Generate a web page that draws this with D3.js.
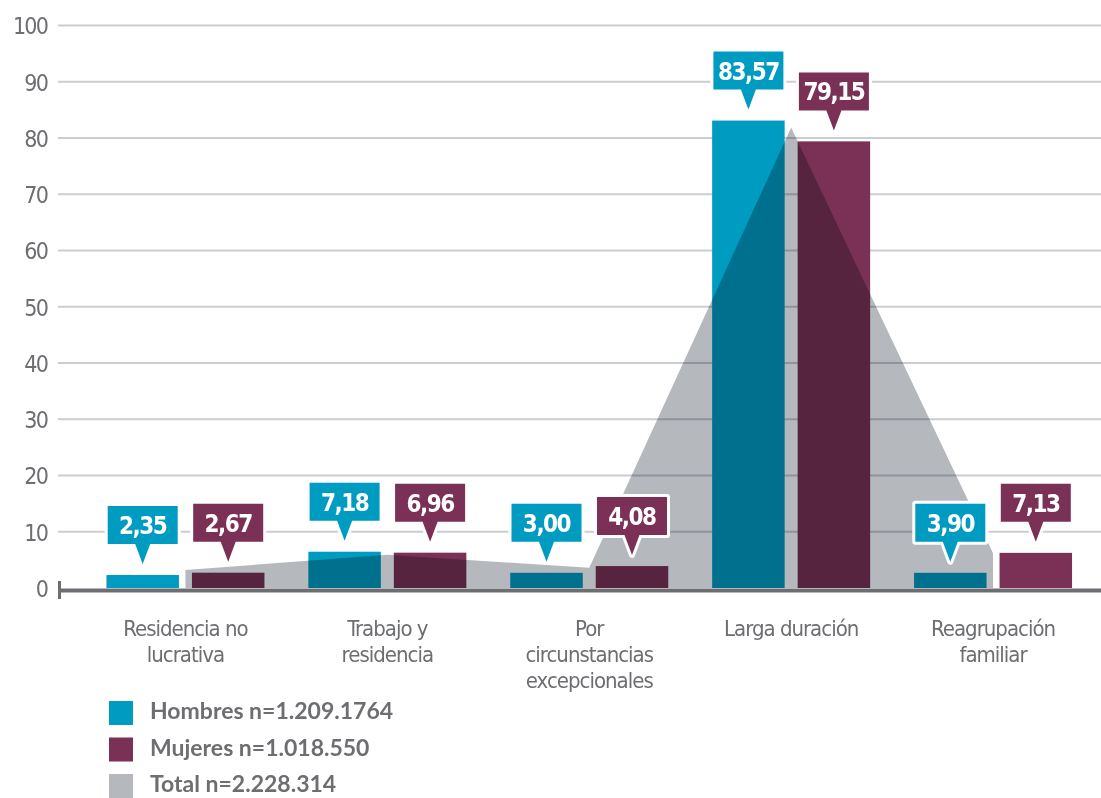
<!DOCTYPE html>
<html>
<head>
<meta charset="utf-8">
<script src="https://cdn.jsdelivr.net/npm/d3@7"></script>
<style>
  html, body { margin: 0; padding: 0; background: #ffffff; }
  svg { display: block; }
  .narrow { font-family: "Liberation Sans Narrow", "DejaVu Sans Condensed", "Arial Narrow", sans-serif; }
</style>
</head>
<body>
<svg id="chart" width="1101" height="798"></svg>
<script>
// ---- Data ----
const categories = [
  ["Residencia no", "lucrativa"],
  ["Trabajo y", "residencia"],
  ["Por", "circunstancias", "excepcionales"],
  ["Larga duración"],
  ["Reagrupación", "familiar"]
];
const hombres = [2.31, 6.45, 2.7, 83.1, 2.7];
const mujeres = [2.72, 6.28, 3.9, 79.4, 6.25];
const total   = [3.2, 5.9, 3.6, 81.85, 6.2];
const hombresLabels = ["2,35", "7,18", "3,00", "83,57", "3,90"];
const mujeresLabels = ["2,67", "6,96", "4,08", "79,15", "7,13"];
const yTicks = [0, 10, 20, 30, 40, 50, 60, 70, 80, 90, 100];
const legendItems = ["Hombres n=1.209.1764", "Mujeres n=1.018.550", "Total n=2.228.314"];

// ---- Styles ----
const BLUE = "#009bc1", PURPLE = "#7a3155", GREY = "#b5b8bd", TEXT = "#6d6e71", GRID = "#cbcdd0";

const svg = d3.select("#chart");
const keys = d3.range(categories.length);

const x = d3.scaleBand().domain(keys).range([84.5, 1094]).paddingInner(0).paddingOuter(0);
const x1 = d3.scaleBand().domain(["h", "m"]).range([-79, 79]).paddingInner(0.152);
const y = d3.scaleLinear().domain([0, 100]).range([588, 25.5]);
const cx = i => x(i) + x.bandwidth() / 2;

// gridlines
const yAxis = d3.axisLeft(y).tickValues(yTicks).tickSize(0).tickPadding(11);
const gGrid = svg.append("g");
gGrid.selectAll("line").data(yTicks.filter(d => d > 0)).join("line")
  .attr("x1", 58).attr("x2", 1101)
  .attr("y1", d => y(d)).attr("y2", d => y(d))
  .attr("stroke", GRID).attr("stroke-width", 2);

const gy = svg.append("g").attr("transform", "translate(58,0)").call(yAxis);
gy.select(".domain").remove();
gy.selectAll("text").attr("class", "narrow").attr("fill", TEXT)
  .attr("font-size", 23).attr("letter-spacing", -1.8).attr("dy", "0.36em");

// bars
const series = [{k: "h", v: hombres, c: BLUE, l: hombresLabels}, {k: "m", v: mujeres, c: PURPLE, l: mujeresLabels}];
series.forEach(s => {
  svg.append("g").selectAll("rect").data(s.v).join("rect")
    .attr("x", (d, i) => cx(i) + x1(s.k))
    .attr("width", x1.bandwidth())
    .attr("y", d => y(d))
    .attr("height", d => y(0) - y(d))
    .attr("fill", s.c);
});

// total area (multiply)
const area = d3.area()
  .x((d, i) => cx(i))
  .y0(y(0))
  .y1(d => y(d))
  .curve(d3.curveLinear);
svg.append("path").datum(total)
  .attr("d", area)
  .attr("fill", GREY)
  .style("mix-blend-mode", "multiply");

// axis baseline
svg.append("line").attr("x1", 58).attr("x2", 1101).attr("y1", y(0) + 2.5).attr("y2", y(0) + 2.5)
  .attr("stroke", TEXT).attr("stroke-width", 4);
svg.append("line").attr("x1", 59.5).attr("x2", 59.5).attr("y1", y(0) - 7).attr("y2", y(0) + 11)
  .attr("stroke", TEXT).attr("stroke-width", 3);

// callouts
const BW = 70, BH = 38, TIP = 20, HALF = 7.5, GAP = 11;
function calloutPath(xc, tipY) {
  const bb = tipY - TIP, bt = bb - BH, l = xc - BW / 2, r = xc + BW / 2;
  return `M${l},${bt}H${r}V${bb}H${xc + HALF}L${xc},${tipY}L${xc - HALF},${bb}H${l}Z`;
}
series.forEach(s => {
  const g = svg.append("g");
  s.v.forEach((d, i) => {
    const xc = cx(i) + x1(s.k) + x1.bandwidth() / 2;
    const tipY = y(d) - GAP;
    g.append("path").attr("d", calloutPath(xc, tipY))
      .attr("fill", s.c).attr("stroke", "#ffffff").attr("stroke-width", 6)
      .attr("stroke-linejoin", "round").style("paint-order", "stroke");
    g.append("text").attr("class", "narrow")
      .attr("x", xc).attr("y", tipY - TIP - BH + 28)
      .attr("text-anchor", "middle").attr("fill", "#ffffff")
      .attr("font-weight", "bold").attr("font-size", 24).attr("letter-spacing", -1.5)
      .text(s.l[i]);
  });
});

// category labels
const gCat = svg.append("g");
categories.forEach((lines, i) => {
  const t = gCat.append("text").attr("class", "narrow")
    .attr("text-anchor", "middle").attr("fill", TEXT).attr("font-size", 22).attr("letter-spacing", -1);
  lines.forEach((ln, j) => {
    t.append("tspan").attr("x", cx(i)).attr("y", 636 + j * 26).text(ln);
  });
});

// legend
const legColors = [BLUE, PURPLE, GREY];
const gLeg = svg.append("g");
legendItems.forEach((txt, i) => {
  const by = 719 + i * 36.5;
  gLeg.append("rect").attr("x", 109).attr("y", by - 18).attr("width", 24).attr("height", 24).attr("fill", legColors[i]);
  gLeg.append("text").attr("x", 150).attr("y", by)
    .attr("fill", TEXT).attr("font-family", "Lato, 'Open Sans', sans-serif")
    .attr("font-weight", "bold").attr("font-size", 23).text(txt);
});
</script>
</body>
</html>
